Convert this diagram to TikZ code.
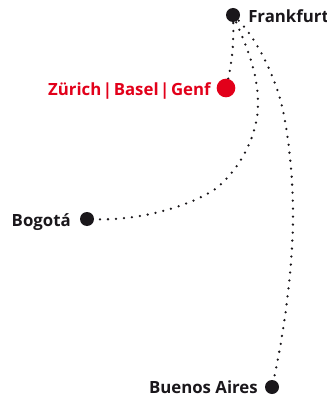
\documentclass[tikz,border=0pt]{standalone}
\usepackage{fontspec}
\usetikzlibrary{backgrounds}
\setmainfont{Open Sans}
\definecolor{inkblack}{HTML}{1A171B}
\definecolor{cityredc}{HTML}{E2001A}
\tikzset{
  x=0.75pt,y=-0.75pt,
  cityblack/.style={circle,fill=inkblack,inner sep=0pt,minimum size=10.5pt},
  cityred/.style={circle,fill=cityredc,inner sep=0pt,minimum size=14pt},
  lbl/.style={font=\bfseries\fontsize{12.6}{14}\selectfont,text=inkblack,inner sep=0pt},
  lblred/.style={font=\bfseries\fontsize{12.6}{14}\selectfont,text=cityredc,inner sep=0pt},
  route/.style={line width=1.9pt,line cap=round,dash pattern=on 0pt off 6pt,inkblack}
}
\begin{document}
\begin{tikzpicture}
\useasboundingbox (0,0) rectangle (327,399);
\node[cityblack] (fra) at (233,15) {};
\node[cityred] (zrh) at (226,88) {};
\node[cityblack] (bog) at (87,219) {};
\node[cityblack] (bue) at (272,387) {};
\node[lbl,anchor=base west] (fral) at (248,23) {Frankfurt};
\node[lblred,anchor=base east] (zrhl) at (211,95.5) {\spaceskip=1.2pt\relax Zürich | Basel | Genf};
\node[lbl,anchor=base east] (bogl) at (71,226) {Bogotá};
\node[lbl,anchor=base east] (buel) at (258,393) {Buenos Aires};
\begin{scope}[on background layer]
\draw[route] (fra.center) .. controls (234,40) and (233,60) .. (zrh.center);
\draw[route] (fra.center) .. controls (245,43) and (258,70) .. (258,104) .. controls (258,135) and (240,170) .. (214,190) .. controls (185,208) and (135,222) .. (bog.center);
\draw[route] (fra.center) .. controls (255,35) and (272,70) .. (281,102) .. controls (288,130) and (293,175) .. (293,215) .. controls (293,270) and (283,340) .. (bue.center);
\end{scope}
\end{tikzpicture}
\end{document}
